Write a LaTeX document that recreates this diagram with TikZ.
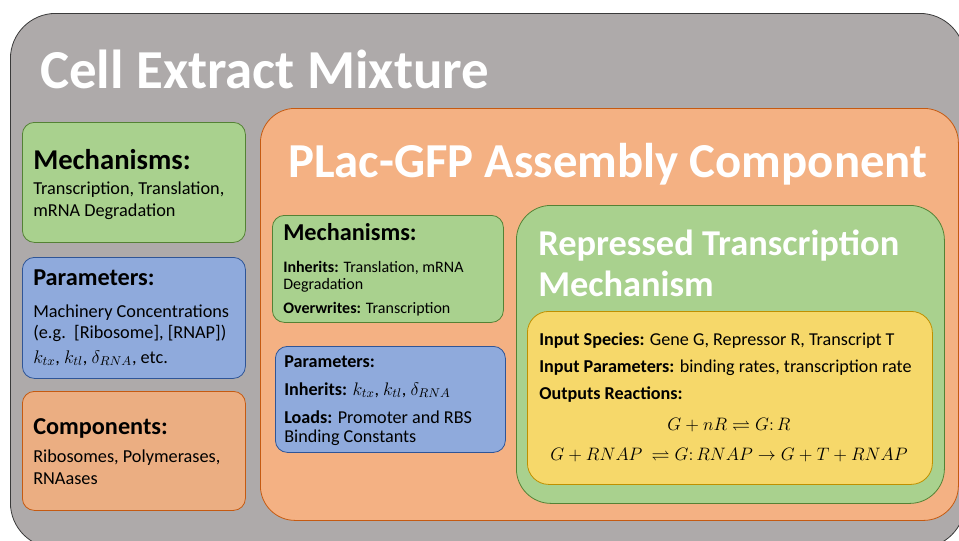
\RequirePackage{fix-cm}
\documentclass[tikz,border=0pt]{standalone}
\usepackage{fontspec}
\setmainfont{Carlito}
\usepackage{amssymb}
\usetikzlibrary{positioning}

\newcommand{\ptsize}[1]{\fontsize{#1}{#1}\selectfont}

\definecolor{extractfill}{HTML}{AEAAAA}
\definecolor{extractline}{HTML}{3A3A3A}
\definecolor{mechfill}{HTML}{A9D18E}
\definecolor{mechline}{HTML}{548235}
\definecolor{parfill}{HTML}{8FAADC}
\definecolor{parline}{HTML}{2F5597}
\definecolor{compfill}{HTML}{F4B183}
\definecolor{compline}{HTML}{C55A11}
\definecolor{leftcomp}{HTML}{EBAE82}
\definecolor{rxnfill}{HTML}{F6D86A}
\definecolor{rxnline}{HTML}{BF9000}

\tikzset{
  panel/.style={draw, line width=0.6pt, anchor=north west, inner sep=0pt, rounded corners=9pt},
  mechbox/.style={panel, draw=mechline, fill=mechfill},
  parbox/.style={panel, draw=parline, fill=parfill},
  compbox/.style={panel, draw=compline, fill=leftcomp},
  txt/.style={anchor=base west, inner sep=0pt, font=\ptsize{#1}},
  txt/.default=13.7,
  hd/.style={anchor=base west, inner sep=0pt, font=\bfseries\ptsize{#1}},
  whitehd/.style={hd=#1, text=white}
}

\begin{document}
\begin{tikzpicture}[x=0.75pt, y=-0.75pt]
\useasboundingbox (0,0) rectangle (959,540);
\clip (0,0) rectangle (959,540);

% cell extract
\node[panel, draw=extractline, fill=extractfill, rounded corners=34pt,
      minimum width=716pt, minimum height=401pt] (extract) at (10,13) {};
\node[whitehd=41.2] (extracttitle) at (40,88) {Cell Extract Mixture};

\node[mechbox, minimum width=167.25pt, minimum height=90pt] (mech) at (22,122) {};
\node[hd=21.5] (mechhd) at (33,169) {Mechanisms:};
\node[txt] (mechA) at (33,194) {Transcription, Translation,};
\node[txt] (mechB) at (33,216) {mRNA Degradation};

\node[parbox, minimum width=167.25pt, minimum height=90.75pt] (par) at (22,257) {};
\node[hd=18.2] (parhd) at (33,285) {Parameters:};
\node[txt] (parA) at (33,317) {Machinery Concentrations};
\node[txt] (parB) at (33,338) {(e.g.\ \ [Ribosome], [RNAP])};
\node[txt] (parC) at (33,363) {$k_{tx}$, $k_{tl}$, $\delta_{RNA}$, etc.};

\node[compbox, minimum width=167.25pt, minimum height=89.25pt] (comp) at (22,391) {};
\node[hd=18.2] (comphd) at (33,434) {Components:};
\node[txt] (compA) at (33,462) {Ribosomes, Polymerases,};
\node[txt] (compB) at (33,484) {RNAases};

% assembly component
\node[panel, draw=compline, fill=compfill, rounded corners=26pt,
      minimum width=523.5pt, minimum height=309pt] (plac) at (260,108) {};
\node[whitehd=36.6] (plactitle) at (288,177) {PLac-GFP Assembly Component};

\node[mechbox, minimum width=173.25pt, minimum height=80.25pt] (imech) at (272,215) {};
\node[hd=18.2] (imechhd) at (283,240) {Mechanisms:};
\node[txt=12] (imechA) at (283,272) {\textbf{Inherits:} Translation, mRNA};
\node[txt=12] (imechB) at (283,289) {Degradation};
\node[txt=12] (imechC) at (283,313) {\textbf{Overwrites:} Transcription};

\node[parbox, minimum width=172.5pt, minimum height=79.5pt] (ipar) at (275,346) {};
\node[hd=13.6] (iparhd) at (284,367) {Parameters:};
\node[txt=13.6] (iparA) at (284,395) {\textbf{Inherits:} $k_{tx}$, $k_{tl}$, $\delta_{RNA}$};
\node[txt=13.6] (iparB) at (284,423) {\textbf{Loads:} Promoter and RBS};
\node[txt=13.6] (iparC) at (284,442) {Binding Constants};

% repressed transcription
\node[mechbox, rounded corners=26pt, minimum width=321pt, minimum height=223.5pt] (rep) at (516,205) {};
\node[whitehd=27.3] (reptitleA) at (538,255) {Repressed Transcription};
\node[whitehd=27.3] (reptitleB) at (538,296) {Mechanism};

\node[panel, draw=rxnline, fill=rxnfill, rounded corners=16pt,
      minimum width=303.75pt, minimum height=129.75pt] (rxn) at (527,311) {};
\node[txt=13.6] (rxnA) at (539,345) {\textbf{Input Species:} Gene G, Repressor R, Transcript T};
\node[txt=13.6] (rxnB) at (539,372) {\textbf{Input Parameters:} binding rates, transcription rate};
\node[txt=13.6] (rxnC) at (539,399) {\textbf{Outputs Reactions:}};
\node[txt=13.5, anchor=base] (eqA) at (729,430) {$G+nR \rightleftharpoons G{:}\,R$};
\node[txt=13.5, anchor=base] (eqB) at (729,460) {$G+RNAP\ \rightleftharpoons G{:}\,RNAP \rightarrow G+T+RNAP$};
\end{tikzpicture}
\end{document}
